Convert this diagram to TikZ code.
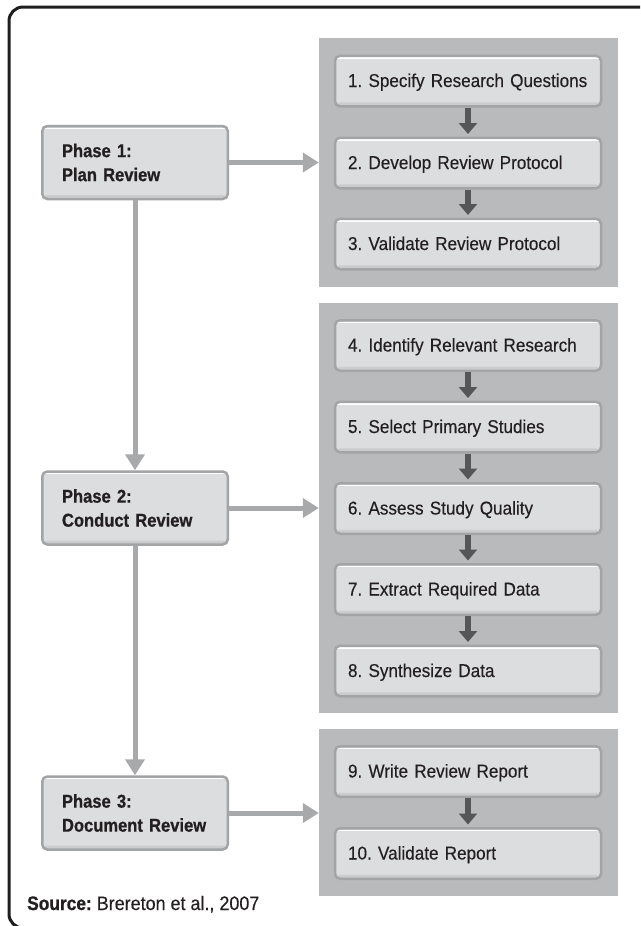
\documentclass[tikz,border=0pt]{standalone}
\usepackage{fontspec}
\setmainfont{Liberation Sans}
\newfontfamily\stepfont{Liberation Sans}[FakeStretch=0.92, FakeBold=0.3]
\newfontfamily\phasefont{Liberation Sans}[FakeStretch=0.89, FakeBold=0.8]
\usetikzlibrary{arrows.meta}

\definecolor{panelgray}{HTML}{B9BABC}
\definecolor{boxfill}{HTML}{DCDDDF}
\definecolor{boxedge}{HTML}{A3A4A6}
\definecolor{boxshade}{HTML}{CBCCCE}
\definecolor{connector}{HTML}{A8A9AB}
\definecolor{stepdark}{HTML}{555658}
\definecolor{inktext}{HTML}{231F20}
\definecolor{framecol}{HTML}{1E1E1E}

\tikzset{
  bevelbox/.style={
    rounded corners=5pt, fill=boxfill, draw=boxedge, line width=2.5pt,
    text=inktext,
    path picture={
      \fill[boxshade] ([yshift=4pt]path picture bounding box.south west)
        rectangle (path picture bounding box.south east);
      \draw[white, line width=1.4pt]
        ([yshift=-2.2pt]path picture bounding box.north west) --
        ([yshift=-2.2pt]path picture bounding box.north east);
    }},
  phasebox/.style={bevelbox, minimum width=185.5pt, minimum height=73pt,
    inner xsep=19.75pt, text width=146pt, align=left,
    font=\phasefont\bfseries\frenchspacing\fontsize{18.6}{24}\selectfont},
  stepbox/.style={bevelbox, minimum width=266pt, minimum height=50.5pt,
    inner xsep=13pt, text width=240pt, align=left,
    text height=12pt, text depth=0pt,
    font=\stepfont\frenchspacing\fontsize{18.6}{22}\selectfont},
  panel/.style={fill=panelgray, inner sep=0pt},
  conn/.style={draw=connector, line width=5pt,
    -{Triangle[length=16pt,width=19pt]}},
  steparrow/.style={draw=stepdark, line width=6pt, shorten >=2.5pt,
    -{Triangle[length=11pt,width=18pt]}},
}

\begin{document}
\begin{tikzpicture}[x=1pt,y=-1pt]
\useasboundingbox (0,0) rectangle (640,926);
\clip (0,0) rectangle (640,926);
\fill[white] (0,0) rectangle (640,926);

% outer frame, open to the right
\draw[framecol, line width=3pt, rounded corners=14pt]
  (660,7) -- (9,7) -- (9,928) -- (660,928);

% grey panels holding the steps of each phase
\node[panel, minimum width=299pt, minimum height=249pt] (p1) at (468.5,162.5) {};
\node[panel, minimum width=299pt, minimum height=410pt] (p2) at (468.5,508) {};
\node[panel, minimum width=299pt, minimum height=167pt] (p3) at (468.5,812.5) {};

% phases
\node[phasebox] (ph1) at (135,162.5) {\mbox{Phase 1:}\\\mbox{Plan Review}};
\node[phasebox] (ph2) at (135,508) {\mbox{Phase 2:}\\\mbox{Conduct Review}};
\node[phasebox] (ph3) at (135,813) {\mbox{Phase 3:}\\\mbox{Document Review}};

% steps
\node[stepbox] (s1) at (468,81) {\mbox{1. Specify Research Questions}};
\node[stepbox] (s2) at (468,163) {\mbox{2. Develop Review Protocol}};
\node[stepbox] (s3) at (468,244) {\mbox{3. Validate Review Protocol}};
\node[stepbox] (s4) at (468,345.5) {\mbox{4. Identify Relevant Research}};
\node[stepbox] (s5) at (468,427) {\mbox{5. Select Primary Studies}};
\node[stepbox] (s6) at (468,508.5) {\mbox{6. Assess Study Quality}};
\node[stepbox] (s7) at (468,589.5) {\mbox{7. Extract Required Data}};
\node[stepbox] (s8) at (468,671) {\mbox{8. Synthesize Data}};
\node[stepbox] (s9) at (468,771.5) {\mbox{9. Write Review Report}};
\node[stepbox] (s10) at (468,853.5) {\mbox{10. Validate Report}};

% step sequence arrows
\foreach \a/\b in {s1/s2, s2/s3, s4/s5, s5/s6, s6/s7, s7/s8, s9/s10}
  \draw[steparrow] (\a.south) -- (\b.north);

% phase flow
\draw[conn] (ph1.south) -- (ph2.north);
\draw[conn] (ph2.south) -- (ph3.north);
\draw[conn] (ph1.east) -- (ph1.east -| p1.west);
\draw[conn] (ph2.east) -- (ph2.east -| p2.west);
\draw[conn] (ph3.east) -- (ph3.east -| p3.west);

% source line
\node[anchor=base west, inner sep=0pt, text=inktext,
  font=\stepfont\frenchspacing\fontsize{19.5}{22}\selectfont] (src) at (27,910)
  {{\phasefont\bfseries Source:} Brereton et al., 2007};
\end{tikzpicture}
\end{document}
